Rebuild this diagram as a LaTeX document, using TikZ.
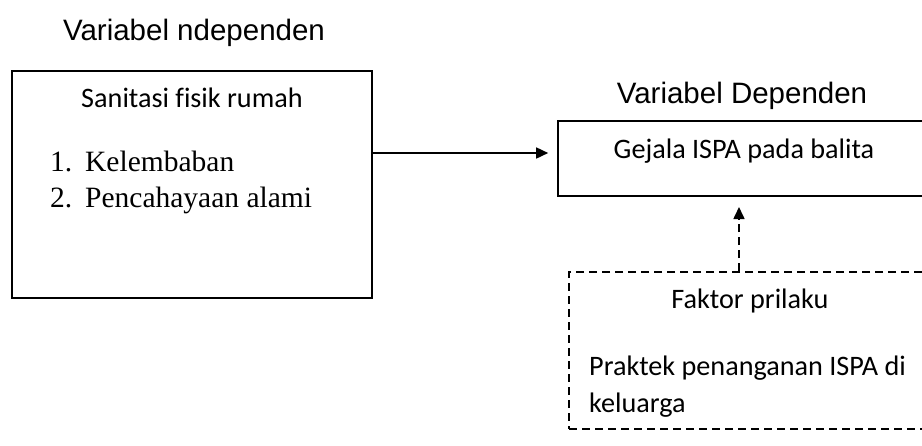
\documentclass[tikz,border=0pt]{standalone}
\usepackage{fontspec}
\setmainfont[Ligatures=NoCommon]{Carlito}
\newfontfamily\arialf{Liberation Sans}
\newfontfamily\serf{Liberation Serif}
\usetikzlibrary{arrows.meta}
\begin{document}
\begin{tikzpicture}[x=1pt,y=-1pt,
  box/.style={draw,line width=1.6pt,rectangle,inner sep=0pt},
  dbox/.style={box,dash pattern=on 8pt off 5pt},
  ttl/.style={font=\arialf\fontsize{29.5}{34}\selectfont,inner sep=0pt,anchor=base},
  cal/.style={font=\fontsize{28.2}{32}\selectfont,inner sep=0pt,anchor=base},
  ser/.style={font=\serf\fontsize{29.5}{33}\selectfont,inner sep=0pt,anchor=base west},
  arr/.style={line width=1.6pt,-{Triangle[length=12pt,width=11pt]}}]
\useasboundingbox (0,0) rectangle (922,445);
\clip (0,0) rectangle (922,445);
\node[ttl] (t1) at (194,40) {Variabel ndependen};
\node[box,minimum width=360pt,minimum height=227pt] (lb) at (192,184.5) {};
\node[cal] (s1) at (192,107) {Sanitasi fisik rumah};
\node[ser] (l1n) at (50,171) {1.};
\node[ser] (l1) at (85,171) {Kelembaban};
\node[ser] (l2n) at (50,207) {2.};
\node[ser] (l2) at (85,207) {Pencahayaan alami};
\node[ttl] (t2) at (742,103) {Variabel Dependen};
\node[box,minimum width=382pt,minimum height=75pt] (dep) at (749,158.5) {};
\node[cal] (g1) at (744,158) {Gejala ISPA pada balita};
\node[dbox,minimum width=371pt,minimum height=157pt] (fk) at (754.5,350.5) {};
\node[cal] (f1) at (750,308) {Faktor prilaku};
\node[cal,anchor=base west] (p1) at (589,375) {Praktek penanganan ISPA di};
\node[cal,anchor=base west] (p2) at (589,412) {keluarga};
\coordinate (ay) at (0,153);
\coordinate (ax) at (739,0);
\coordinate (tipd) at (739,207);
\draw[arr] (lb.east |- ay) -- ([xshift=-9pt]dep.west |- ay);
\draw[arr,dash pattern=on 8pt off 5pt] (fk.north -| ax) -- (tipd);
\end{tikzpicture}
\end{document}
